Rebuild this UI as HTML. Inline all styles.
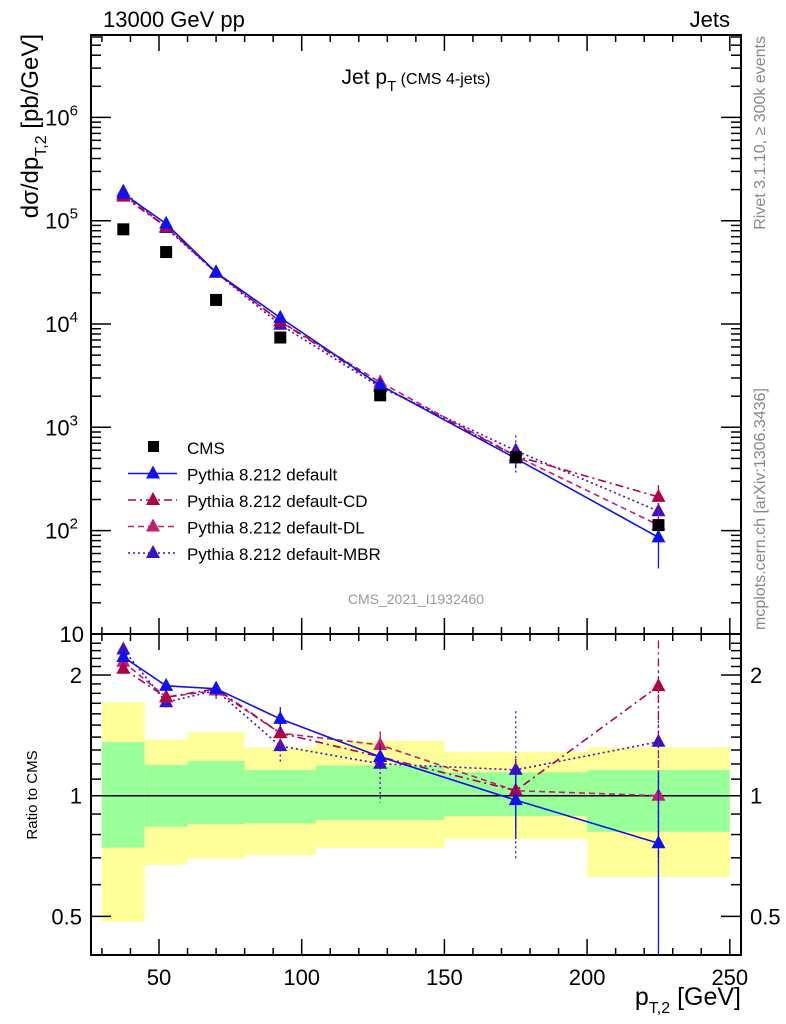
<!DOCTYPE html>
<html><head><meta charset="utf-8"><style>
html,body{margin:0;padding:0;background:#fff;}
svg{display:block;font-family:"Liberation Sans",Arial,sans-serif;}
</style></head><body>
<svg id="chart" width="786" height="1024" viewBox="0 0 786 1024">
<g id="bands"></g>
<g id="grid"></g>
<g id="series"></g>
<text x="103" y="27" font-size="22">13000 GeV pp</text>
<text x="730" y="27" font-size="22" text-anchor="end">Jets</text>
<text x="416" y="84" font-size="21" text-anchor="middle">Jet p<tspan font-size="15" dy="7">T</tspan><tspan font-size="16" dy="-7"> (CMS 4-jets)</tspan></text>
<text transform="translate(38,34) rotate(-90)" font-size="24" text-anchor="end">dσ/dp<tspan font-size="16" dy="8">T,2</tspan><tspan dy="-8"> [pb/GeV]</tspan></text>
<text transform="translate(37,795) rotate(-90)" font-size="15" text-anchor="middle">Ratio to CMS</text>
<text x="741" y="1005" font-size="25" text-anchor="end">p<tspan font-size="16" dy="8">T,2</tspan><tspan dy="-8"> [GeV]</tspan></text>
<text transform="translate(765,36) rotate(-90)" font-size="16" fill="#888" text-anchor="end">Rivet 3.1.10, ≥ 300k events</text>
<text transform="translate(765,630) rotate(-90)" font-size="16" fill="#888" text-anchor="start">mcplots.cern.ch [arXiv:1306.3436]</text>
<text x="416" y="604" font-size="14" fill="#999" text-anchor="middle">CMS_2021_I1932460</text>
<g id="legend"></g>
</svg>
<script>
const binEdges=[30,45,60,80,105,150,200,250];
const xPoints=[37.5,52.5,70,92.5,127.5,175,225];
const cmsValues=[82500,49700,17100,7400,2040,513,113];
const bandYellowHi=[1.71,1.38,1.44,1.32,1.37,1.285,1.32];
const bandYellowLo=[0.485,0.672,0.697,0.711,0.74,0.78,0.627];
const bandGreenHi=[1.36,1.193,1.22,1.16,1.188,1.144,1.16];
const bandGreenLo=[0.742,0.837,0.85,0.853,0.87,0.89,0.813];
const defaultValues=[183000,93400,31600,11500,2550,500,86];
const cdValues=[171000,87500,31600,10600,2550,528,212];
const dlValues=[178000,87500,31300,10600,2730,528,113];
const mbrValues=[191000,85000,31300,9840,2450,595,154];
const defaultErr=[0.03,0.03,0.04,0.07,0.06,0.2,0.5];
const cdErr=[0.03,0.03,0.04,0.07,0.08,0.2,0.3];
const dlErr=[0.03,0.03,0.04,0.07,0.08,0.2,0.3];
const mbrErr=[0.04,0.04,0.05,0.1,0.2,0.4,0.5];
const xTicksMajor=[50,100,150,200,250];
const mainTickExp=[1,2,3,4,5,6];
const ratioTicks=[0.5,1,2];

const NS="http://www.w3.org/2000/svg";
const L=91,R=741,MT=35,MB=634,RB=955;
const X=v=>159+(v-50)*2.854;
const YM=v=>220.7-(Math.log10(v)-5)*103.3;
const YR=v=>795.7-Math.log10(v)*401;
function mk(parent,tag,attrs){const e=document.createElementNS(NS,tag);for(const k in attrs)e.setAttribute(k,attrs[k]);document.getElementById(parent).appendChild(e);return e;}

for(let i=0;i<binEdges.length-1;i++){
 let r=mk('bands','rect',{x:X(binEdges[i]),y:YR(bandYellowHi[i]),width:X(binEdges[i+1])-X(binEdges[i]),height:YR(bandYellowLo[i])-YR(bandYellowHi[i]),fill:'#ffff99'});
 
 
 let g=mk('bands','rect',{x:X(binEdges[i]),y:YR(bandGreenHi[i]),width:X(binEdges[i+1])-X(binEdges[i]),height:YR(bandGreenLo[i])-YR(bandGreenHi[i]),fill:'#99ff99'});
 
 
}
let f1=mk('grid','rect',{x:L,y:MT,width:R-L,height:MB-MT,fill:'none',stroke:'#000','stroke-width':2});


let f2=mk('grid','rect',{x:L,y:MB,width:R-L,height:RB-MB,fill:'none',stroke:'#000','stroke-width':2});


let one=mk('grid','line',{x1:L,x2:R,y1:YR(1),y2:YR(1),stroke:'#000','stroke-width':1.5});


for(let v=30;v<=250;v+=10){
 const maj=v%50===0, x=X(v), len=maj?16:7;
 for(const [y0,d] of [[MT,1],[MB,-1],[MB,1],[RB,-1]]){
  mk('grid','line',{x1:x,x2:x,y1:y0,y2:y0+d*len,stroke:'#000','stroke-width':1.5});
 }
}
xTicksMajor.forEach(v=>{
 let t=mk('grid','text',{x:X(v),y:985,'font-size':22,'text-anchor':'middle'});t.textContent=v;
 
 
});
for(let e=1;e<=6;e++){
 for(let m=1;m<10;m++){
  const y=YM(m*Math.pow(10,e)); if(y<MT||y>MB)continue;
  const len=m===1?20:10;
  mk('grid','line',{x1:L,x2:L+len,y1:y,y2:y,stroke:'#000','stroke-width':1.5});
  mk('grid','line',{x1:R,x2:R-len,y1:y,y2:y,stroke:'#000','stroke-width':1.5});
 }
}
mainTickExp.forEach(e=>{
 let t=mk('grid','text',{x:e===1?84:78,y:YM(Math.pow(10,e))+8,'font-size':22,'text-anchor':'end'});
 t.textContent='10';
 if(e>1){let s=document.createElementNS(NS,'tspan');s.setAttribute('dy','-10');s.setAttribute('font-size','15');s.textContent=e;t.appendChild(s);}
 
 
});
for(let v=0.4;v<=2.5;v+=0.1){
 const y=YR(v); if(y<MB||y>RB)continue;
 const maj=Math.abs(v-0.5)<0.01||Math.abs(v-1)<0.01||Math.abs(v-2)<0.01;
 const len=maj?20:10;
 mk('grid','line',{x1:L,x2:L+len,y1:y,y2:y,stroke:'#000','stroke-width':1.5});
 mk('grid','line',{x1:R,x2:R-len,y1:y,y2:y,stroke:'#000','stroke-width':1.5});
}
ratioTicks.forEach(v=>{
 for(const [x,a] of [[82,'end'],[750,'start']]){
  let t=mk('grid','text',{x:x,y:YR(v)+8,'font-size':22,'text-anchor':a});t.textContent=v;
  
  
 }
});
const series=[
 {name:'mbr',vals:mbrValues,err:mbrErr,color:'#3a10c8',dash:'2,3'},
 {name:'dl',vals:dlValues,err:dlErr,color:'#c0206e',dash:'6,4'},
 {name:'cd',vals:cdValues,err:cdErr,color:'#b00048',dash:'8,4,2,4'},
 {name:'default',vals:defaultValues,err:defaultErr,color:'#1010f0',dash:''}
];
function tri(g,x,y,c){const p=mk(g,'polygon',{points:`${x},${y-8} ${x-7},${y+5} ${x+7},${y+5}`,fill:c});return p;}
series.forEach(s=>{
 const ptsM=[],ptsR=[];
 xPoints.forEach((xv,i)=>{ptsM.push(X(xv)+','+YM(s.vals[i]));ptsR.push(X(xv)+','+Math.max(MB,Math.min(RB,YR(s.vals[i]/cmsValues[i]))));});
 for(const pts of [ptsM,ptsR]){
  let l=mk('series','polyline',{points:pts.join(' '),fill:'none',stroke:s.color,'stroke-width':1.6,'stroke-dasharray':s.dash});
  
  
 }
 xPoints.forEach((xv,i)=>{
  const v=s.vals[i],e=s.err[i],r=v/cmsValues[i],x=X(xv);
  const lo=Math.max(v*(1-e),1);
  mk('series','line',{x1:x,x2:x,y1:YM(v*(1+e)),y2:Math.min(MB,YM(lo)),stroke:s.color,'stroke-width':1.3,'stroke-dasharray':s.dash});
  mk('series','line',{x1:x,x2:x,y1:Math.max(MB,YR(r*(1+e))),y2:Math.min(RB,YR(Math.max(r*(1-e),0.01))),stroke:s.color,'stroke-width':1.3,'stroke-dasharray':s.dash});
  let m=tri('series',x,YM(v),s.color);
  
  
  const yr=YR(r);
  if(yr>=MB&&yr<=RB){let m2=tri('series',x,yr,s.color);
  
  }
 });
});
xPoints.forEach((xv,i)=>{
 let d=mk('series','rect',{x:X(xv)-6,y:YM(cmsValues[i])-6,width:12,height:12,fill:'#000'});
 
 
});
const legNames=['CMS','Pythia 8.212 default','Pythia 8.212 default-CD','Pythia 8.212 default-DL','Pythia 8.212 default-MBR'];
const legStyle=[null,series[3],series[2],series[1],series[0]];
legNames.forEach((n,i)=>{
 const y=447+i*26.5;
 if(i===0){mk('legend','rect',{x:148,y:y-6,width:11,height:11,fill:'#000'});}
 else{mk('legend','line',{x1:128,x2:177,y1:y,y2:y,stroke:legStyle[i].color,'stroke-width':1.6,'stroke-dasharray':legStyle[i].dash});tri('legend',153,y,legStyle[i].color);}
 let t=mk('legend','text',{x:187,y:y+7,'font-size':17});t.textContent=n;
 
 
});
</script>
</body></html>
